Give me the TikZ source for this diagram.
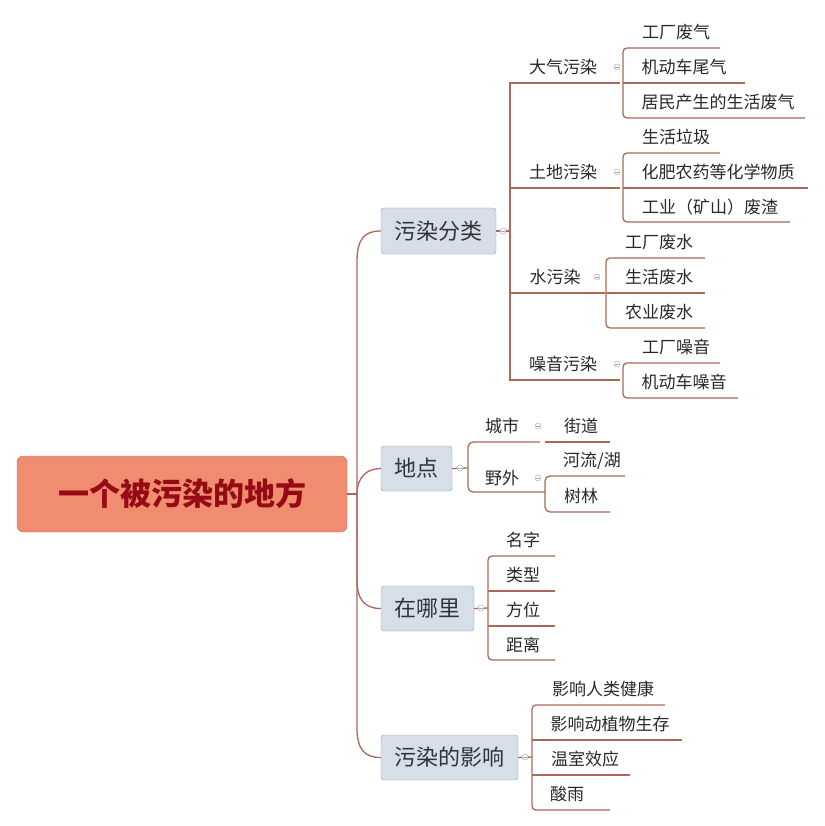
\documentclass[tikz,border=0pt]{standalone}
\usepackage{fontspec}
\setmainfont{Noto Sans CJK SC}
\begin{document}
\begin{tikzpicture}[x=1pt,y=-1pt,
  ln/.style={line width=1.3pt, color={rgb,255:red,170;green,105;blue,90}},
  leaf/.style={text={rgb,255:red,40;green,40;blue,40}, font=\fontsize{17}{17}\selectfont, inner sep=0pt},
  lv/.style={draw={rgb,255:red,150;green,160;blue,170}, fill={rgb,255:red,214;green,222;blue,232}, rounded corners=3pt, text={rgb,255:red,50;green,50;blue,60}, font=\fontsize{22}{22}\selectfont, inner sep=0pt},
  mk/.style={draw=gray!60, fill=white, circle, inner sep=0pt, minimum size=6pt, line width=0.5pt,
    path picture={\draw[gray!70,line width=0.5pt] ([xshift=-1.8pt]path picture bounding box.center)--([xshift=1.8pt]path picture bounding box.center);}}
]
\useasboundingbox (0,0) rectangle (824,826);
% root
\node[draw={rgb,255:red,200;green,110;blue,90}, fill={rgb,255:red,240;green,140;blue,112}, rounded corners=6pt, minimum width=330pt, minimum height=76pt, text={rgb,255:red,150;green,10;blue,20}, font=\fontsize{31}{31}\selectfont\bfseries] (root) at (182,494) {一个被污染的地方};
% level 1
\node[lv, minimum width=115pt, minimum height=46pt] (a) at (438.5,231) {污染分类};
\node[lv, minimum width=71pt, minimum height=45pt] (b) at (416.5,468.5) {地点};
\node[lv, minimum width=93pt, minimum height=45pt] (c) at (427.5,608.5) {在哪里};
\node[lv, minimum width=137pt, minimum height=45pt] (d) at (449.5,757.5) {污染的影响};
\coordinate (t) at (357,494);
\draw[ln] (root.east) -- (t);
\draw[ln] (t) -- (357,262) .. controls (357,238) and (365,231) .. (a.west);
\draw[ln] (t) .. controls (357,478) and (366,468.5) .. (b.west);
\draw[ln] (t) -- (357,580) .. controls (357,600) and (365,608.5) .. (c.west);
\draw[ln] (t) -- (357,728) .. controls (357,750) and (365,757.5) .. (d.west);
% --- 污染分类
\draw[ln] (a.east) -- (510,231);
\draw[ln] (620,83) -- (510,83) -- (510,380) -- (620,380);
\draw[ln] (510,188) -- (620,188);
\draw[ln] (510,293) -- (605,293);
\node[mk] at (503,231) {};
\node[leaf] (a1) at (563,67) {大气污染};
\node[leaf] (a2) at (563,172) {土地污染};
\node[leaf] (a3) at (555,277) {水污染};
\node[leaf] (a4) at (563,364) {噪音污染};
% 大气
\draw[ln,rounded corners=4pt] (720,48) -- (623,48) -- (623,118) -- (805,118);
\draw[ln] (623,83) -- (745,83);
\node[leaf] (a11) at (676,32) {工厂废气};
\node[leaf] (a12) at (684,67) {机动车尾气};
\node[leaf] (a13) at (718,102) {居民产生的生活废气};
\node[mk] at (617,67) {};
% 土地
\draw[ln,rounded corners=4pt] (720,153) -- (623,153) -- (623,222) -- (790,222);
\draw[ln] (623,188) -- (808,188);
\node[leaf] (a21) at (676,137) {生活垃圾};
\node[leaf] (a22) at (718,172) {化肥农药等化学物质};
\node[leaf] (a23) at (710,207) {工业（矿山）废渣};
\node[mk] at (617,172) {};
% 水
\draw[ln,rounded corners=4pt] (705,258) -- (606,258) -- (606,328) -- (705,328);
\draw[ln] (606,293) -- (705,293);
\node[leaf] (a31) at (659,242) {工厂废水};
\node[leaf] (a32) at (659,277) {生活废水};
\node[leaf] (a33) at (659,312) {农业废水};
\node[mk] at (597,277) {};
% 噪音
\draw[ln,rounded corners=4pt] (720,363) -- (623,363) -- (623,398) -- (738,398);
\node[leaf] (a41) at (676,347) {工厂噪音};
\node[leaf] (a42) at (684,382) {机动车噪音};
\node[mk] at (617,364) {};
% --- 地点
\draw[ln] (b.east) -- (468,468);
\draw[ln,rounded corners=5pt] (540,442) -- (468,442) -- (468,492) -- (545,492);
\draw[ln] (545,442) -- (610,442);
\node[mk] at (460,468) {};
\node[leaf] (b1) at (502,426) {城市};
\node[leaf] (b2) at (502,478) {野外};
\node[mk] at (538,426) {};
\node[mk] at (538,478) {};
\node[leaf] (b11) at (581,426) {街道};
\draw[ln,rounded corners=5pt] (625,476) -- (545,476) -- (545,512) -- (610,512);
\node[leaf] (b21) at (592,461) {河流/湖};
\node[leaf] (b22) at (581,496) {树林};
% --- 在哪里
\draw[ln] (c.east) -- (488,608);
\draw[ln,rounded corners=4pt] (555,556) -- (488,556) -- (488,660) -- (555,660);
\draw[ln] (488,591) -- (555,591);
\draw[ln] (488,626) -- (555,626);
\node[mk] at (481,608) {};
\node[leaf] (c1) at (523,540) {名字};
\node[leaf] (c2) at (523,575) {类型};
\node[leaf] (c3) at (523,610) {方位};
\node[leaf] (c4) at (523,645) {距离};
% --- 影响
\draw[ln] (d.east) -- (532,757);
\draw[ln,rounded corners=4pt] (665,705) -- (532,705) -- (532,810) -- (610,810);
\draw[ln] (532,740) -- (682,740);
\draw[ln] (532,775) -- (630,775);
\node[mk] at (525,757) {};
\node[leaf] (d1) at (603,689) {影响人类健康};
\node[leaf] (d2) at (610,724) {影响动植物生存};
\node[leaf] (d3) at (585,759) {温室效应};
\node[leaf] (d4) at (567,794) {酸雨};
\end{tikzpicture}
\end{document}
